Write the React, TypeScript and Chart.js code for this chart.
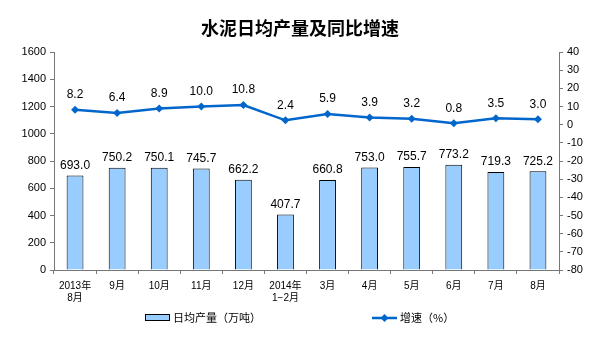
import React, { useEffect, useRef } from "react";
import { Chart, registerables } from "chart.js";
Chart.register(...registerables);

const categories: (string | string[])[] = [["2013年", "8月"], "9月", "10月", "11月", "12月", ["2014年", "1−2月"], "3月", "4月", "5月", "6月", "7月", "8月"];
const output = [693.0, 750.2, 750.1, 745.7, 662.2, 407.7, 660.8, 753.0, 755.7, 773.2, 719.3, 725.2];
const growth = [8.2, 6.4, 8.9, 10.0, 10.8, 2.4, 5.9, 3.9, 3.2, 0.8, 3.5, 3.0];
const titleText = "水泥日均产量及同比增速";
const barLegend = "日均产量（万吨）";
const lineLegend = "增速（%）";

const BAR_COLOR = "#99CCFF";
const LINE_COLOR = "#0066CC";
const FONT = "'Liberation Sans', 'Noto Sans CJK SC', sans-serif";

const overlay = {
  id: "overlay",
  afterDatasetsDraw(chart: any) {
    const ctx = chart.ctx;
    ctx.save();
    ctx.fillStyle = "#000";
    ctx.font = `12px ${FONT}`;
    ctx.textAlign = "center";
    ctx.textBaseline = "bottom";
    const barMeta = chart.getDatasetMeta(1);
    barMeta.data.forEach((el: any, i: number) => {
      ctx.fillText(output[i].toFixed(1), el.x, el.y - 4);
    });
    const lineMeta = chart.getDatasetMeta(0);
    lineMeta.data.forEach((el: any, i: number) => {
      ctx.fillText(growth[i].toFixed(1), el.x, el.y - 9);
    });
    // title
    ctx.font = `bold 18px 'Noto Sans CJK SC', sans-serif`;
    ctx.textBaseline = "middle";
    ctx.fillText(titleText, 300, 28);
    // legend
    ctx.font = `11px 'Noto Sans CJK SC', sans-serif`;
    ctx.textAlign = "left";
    ctx.fillStyle = BAR_COLOR;
    ctx.fillRect(145, 314, 25, 7);
    ctx.strokeStyle = "#000";
    ctx.lineWidth = 1;
    ctx.strokeRect(145.5, 314.5, 24, 6);
    ctx.fillStyle = "#000";
    ctx.fillText(barLegend, 173, 318);
    ctx.strokeStyle = LINE_COLOR;
    ctx.lineWidth = 2.5;
    ctx.beginPath();
    ctx.moveTo(372, 318);
    ctx.lineTo(397, 318);
    ctx.stroke();
    ctx.fillStyle = LINE_COLOR;
    ctx.beginPath();
    ctx.moveTo(384.5, 314);
    ctx.lineTo(388.5, 318);
    ctx.lineTo(384.5, 322);
    ctx.lineTo(380.5, 318);
    ctx.closePath();
    ctx.fill();
    ctx.fillStyle = "#000";
    ctx.fillText(lineLegend, 400, 318);
    ctx.restore();
  },
};

export default function App() {
  const ref = useRef<HTMLCanvasElement>(null);
  useEffect(() => {
    const chart = new Chart(ref.current!, {
      type: "bar",
      data: {
        labels: categories as any,
        datasets: [
          {
            type: "line",
            label: lineLegend,
            data: growth,
            yAxisID: "y1",
            borderColor: LINE_COLOR,
            backgroundColor: LINE_COLOR,
            borderWidth: 2.5,
            pointStyle: "rectRot",
            pointRadius: 4,
            pointBackgroundColor: LINE_COLOR,
            pointBorderWidth: 0,
            tension: 0,
            order: 0,
          } as any,
          {
            type: "bar",
            label: barLegend,
            data: output,
            yAxisID: "y",
            backgroundColor: BAR_COLOR,
            borderColor: "#000",
            borderWidth: 1,
            categoryPercentage: 1,
            barPercentage: 0.4,
            order: 1,
          },
        ],
      },
      plugins: [overlay],
      options: {
        responsive: false,
        animation: false,
        layout: { padding: { top: 52, bottom: 48, left: 0, right: 0 } },
        plugins: { legend: { display: false }, title: { display: false }, tooltip: { enabled: false } },
        scales: {
          x: {
            offset: true,
            grid: { display: true, drawOnChartArea: false, drawTicks: true, tickLength: 4, offset: true, color: "#777" },
            border: { display: true, color: "#777" },
            ticks: { color: "#000", font: { size: 10, family: FONT }, maxRotation: 0, autoSkip: false, padding: 6 },
            afterFit: (s: any) => { s.height = 33; },
          },
          y: {
            position: "left",
            min: 0,
            max: 1600,
            ticks: { stepSize: 200, color: "#000", font: { size: 11, family: FONT }, padding: 4, callback: (v: any) => String(v) },
            grid: { display: true, drawOnChartArea: false, drawTicks: true, tickLength: 4, color: "#777" },
            border: { display: true, color: "#777" },
            afterFit: (s: any) => { s.width = 54; },
          },
          y1: {
            position: "right",
            min: -80,
            max: 40,
            ticks: { stepSize: 10, color: "#000", font: { size: 11, family: FONT }, padding: 4, callback: (v: any) => String(v) },
            grid: { display: true, drawOnChartArea: false, drawTicks: true, tickLength: 4, color: "#777" },
            border: { display: true, color: "#777" },
            afterFit: (s: any) => { s.width = 34; },
          },
        },
      },
    });
    return () => chart.destroy();
  }, []);
  return (
    <div style={{ position: "absolute", left: 0, top: 0, width: 593, height: 351, background: "#fff" }}>
      <canvas ref={ref} width={593} height={351} />
    </div>
  );
}
